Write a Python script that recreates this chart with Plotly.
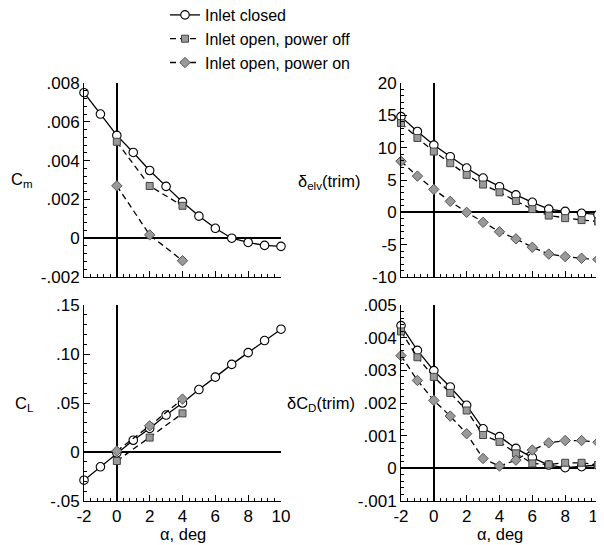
import plotly.graph_objects as go

W, H = 604, 545

alpha = [-2, -1, 0, 1, 2, 3, 4, 5, 6, 7, 8, 9, 10]
alpha_short = [0, 2, 4]

# C_m
cm_closed = [0.0075, 0.0064, 0.0053, 0.00442, 0.00349, 0.00267, 0.00187, 0.00114, 0.00051, 0.0, -0.00022, -0.00037, -0.00042]
cm_off = [0.00497, 0.00269, 0.00167]
cm_on = [0.0027, 0.00017, -0.00116]

# delta elevator (trim)
elv_closed = [14.8, 12.5, 10.4, 8.6, 6.85, 5.3, 3.96, 2.7, 1.55, 0.5, 0.15, -0.15, -0.36]
elv_off = [13.8, 11.5, 9.4, 7.6, 5.8, 4.3, 3.1, 1.75, 0.5, -0.5, -0.9, -1.2, -1.4]
elv_on = [7.9, 5.6, 3.55, 1.7, 0.0, -1.55, -3.0, -4.1, -5.4, -6.45, -6.85, -7.1, -7.3]

# C_L
cl_closed = [-0.0288, -0.0151, -0.001, 0.012, 0.024, 0.0377, 0.050, 0.0637, 0.0764, 0.0894, 0.1014, 0.1137, 0.1253]
cl_off = [-0.0092, 0.0147, 0.0394]
cl_on = [0.001, 0.0267, 0.054]

# delta C_D (trim)
cd_closed = [0.00437, 0.00361, 0.00299, 0.00249, 0.00193, 0.00121, 0.00097, 0.00061, 0.00033, 0.0001, 0.00002, 0.00005, 0.0001]
cd_off = [0.00419, 0.0034, 0.0028, 0.00231, 0.00177, 0.00102, 0.00081, 0.00046, 0.00015, 0.00012, 0.00017, 0.00017, 0.0001]
cd_on = [0.00345, 0.00269, 0.00208, 0.0016, 0.00106, 0.0003, 0.00007, 0.00025, 0.00056, 0.00078, 0.00085, 0.00085, 0.0008]

series_names = ["Inlet closed", "Inlet open, power off", "Inlet open, power on"]

x_ticks = [-2, 0, 2, 4, 6, 8, 10]
x_ticktext = ["-2", "0", "2", "4", "6", "8", "10"]
cm_ticks = [-0.002, 0, 0.002, 0.004, 0.006, 0.008]
cm_ticktext = ["-.002", "0", ".002", ".004", ".006", ".008"]
elv_ticks = [-10, -5, 0, 5, 10, 15, 20]
elv_ticktext = ["-10", "-5", "0", "5", "10", "15", "20"]
cl_ticks = [-0.05, 0, 0.05, 0.10, 0.15]
cl_ticktext = ["-.05", "0", ".05", ".10", ".15"]
cd_ticks = [-0.001, 0, 0.001, 0.002, 0.003, 0.004, 0.005]
cd_ticktext = ["-.001", "0", ".001", ".002", ".003", ".004", ".005"]

FONT = "Liberation Sans, Arial, sans-serif"
FS = 16.5
TFS = 17

styles = [
    dict(line=dict(color="black", width=1.3),
         marker=dict(symbol="circle", size=8.5, color="white", line=dict(color="black", width=1.1))),
    dict(line=dict(color="black", width=1.3, dash="6px,4px"),
         marker=dict(symbol="square", size=7, color="#999999", line=dict(color="#444444", width=1))),
    dict(line=dict(color="black", width=1.3, dash="6px,4px"),
         marker=dict(symbol="diamond", size=8, color="#999999", line=dict(color="#555555", width=1))),
]

fig = go.Figure()

panels = [
    ("x", "y", [alpha, alpha_short, alpha_short], [cm_closed, cm_off, cm_on]),
    ("x2", "y2", [alpha, alpha, alpha], [elv_closed, elv_off, elv_on]),
    ("x3", "y3", [alpha, alpha_short, alpha_short], [cl_closed, cl_off, cl_on]),
    ("x4", "y4", [alpha, alpha, alpha], [cd_closed, cd_off, cd_on]),
]

for pi, (xa, ya, xs, ys) in enumerate(panels):
    for si in range(3):
        fig.add_trace(go.Scatter(
            x=xs[si], y=ys[si], xaxis=xa, yaxis=ya, mode="lines+markers",
            name=series_names[si], showlegend=(pi == 0),
            cliponaxis=False, **styles[si]))

# page offset of the plot div (default body margin)
OFF = 8

def px2x(p):
    return (p - OFF) / W

def px2y(p):
    return 1 - (p - OFF) / H

xl = [px2x(84), px2x(281)]
xr = [px2x(401), px2x(598)]
yt = [px2y(277), px2y(83)]
yb = [px2y(501), px2y(305)]

def xaxis(dom, anchor, labels):
    return dict(domain=dom, anchor=anchor, range=[-2, 10], showgrid=False, automargin=False,
                showline=True, linecolor="black", linewidth=1, mirror=False,
                zeroline=True, zerolinecolor="black", zerolinewidth=1.6,
                ticks="inside", ticklen=6, tickcolor="black", tickwidth=1,
                tickmode="array", tickvals=x_ticks, ticktext=x_ticktext,
                showticklabels=labels,
                minor=dict(ticks="inside", ticklen=3, tickcolor="black", tickwidth=1,
                           tick0=-2, dtick=0.4, showgrid=False),
                tickfont=dict(family=FONT, size=TFS, color="black"), fixedrange=True)

def yaxis(dom, anchor, rng, tv, tt, minor_dt):
    return dict(domain=dom, anchor=anchor, range=rng, showgrid=False, automargin=False,
                showline=True, linecolor="black", linewidth=1, mirror=False,
                zeroline=True, zerolinecolor="black", zerolinewidth=1.6,
                ticks="inside", ticklen=6, tickcolor="black", tickwidth=1,
                tickmode="array", tickvals=tv, ticktext=tt,
                minor=dict(ticks="inside", ticklen=3, tickcolor="black", tickwidth=1,
                           tick0=rng[0], dtick=minor_dt, showgrid=False),
                tickfont=dict(family=FONT, size=TFS, color="black"), fixedrange=True)

fig.update_layout(
    template="none",
    width=W, height=H, margin=dict(l=0, r=0, t=0, b=0, autoexpand=False),
    paper_bgcolor="white", plot_bgcolor="white",
    font=dict(family=FONT, size=FS, color="black"),
    xaxis=xaxis(xl, "y", False),
    yaxis=yaxis(yt, "x", [-0.002, 0.008], cm_ticks, cm_ticktext, 0.0004),
    xaxis2=xaxis(xr, "y2", False),
    yaxis2=yaxis(yt, "x2", [-10, 20], elv_ticks, elv_ticktext, 1),
    xaxis3=xaxis(xl, "y3", True),
    yaxis3=yaxis(yb, "x3", [-0.05, 0.15], cl_ticks, cl_ticktext, 0.01),
    xaxis4=xaxis(xr, "y4", True),
    yaxis4=yaxis(yb, "x4", [-0.001, 0.005], cd_ticks, cd_ticktext, 0.0002),
    showlegend=True,
    legend=dict(x=px2x(165), y=px2y(-2), xanchor="left", yanchor="top",
                bgcolor="rgba(0,0,0,0)", borderwidth=0,
                font=dict(family=FONT, size=16, color="black"),
                itemclick=False, itemdoubleclick=False),
)

annos = [
    ("C<sub>m</sub>", 22, 180, "center"),
    ("C<sub>L</sub>", 24, 404, "center"),
    ("δ<sub>elv</sub>(trim)", 362, 182, "right"),
    ("δC<sub>D</sub>(trim)", 357, 404, "right"),
    ("α, deg", 182.5, 534, "center"),
    ("α, deg", 499.5, 534, "center"),
]
for txt, ax_, ay_, anc in annos:
    fig.add_annotation(text=txt, x=px2x(ax_), y=px2y(ay_), xref="paper", yref="paper",
                       xanchor=anc, yanchor="middle", showarrow=False,
                       font=dict(family=FONT, size=FS, color="black"))

fig.write_html("out.html")
